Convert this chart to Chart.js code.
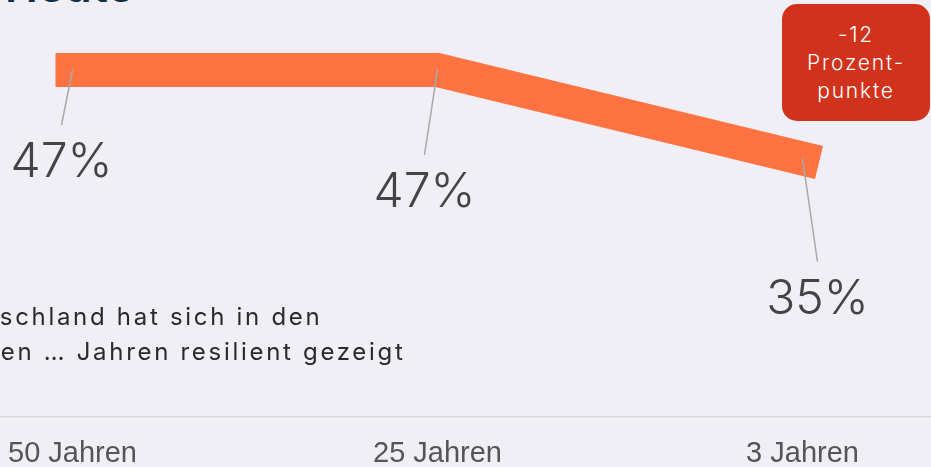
<!DOCTYPE html>
<html lang="de">
<head>
<meta charset="utf-8">
<script src="https://cdn.jsdelivr.net/npm/chart.js@4.4.0/dist/chart.umd.min.js"></script>
<style>
  html, body { margin: 0; padding: 0; width: 931px; height: 467px; overflow: hidden; background: #f0eff5; }
  #wrap { position: relative; width: 931px; height: 467px; overflow: hidden; }
  #chartBox { position: absolute; left: -110px; top: -26px; width: 1095px; height: 497px; }
  #title { position: absolute; left: 5px; top: -36px; font: 600 44px/44px Inter, sans-serif; color: #0f2f44; white-space: nowrap; letter-spacing: 0.5px; }
  .note { position: absolute; font: 400 24px/35px Inter, sans-serif; letter-spacing: 2.7px; color: #2a2a2a; white-space: nowrap; }
  #badge { position: absolute; left: 782px; top: 4px; width: 148px; height: 117px; background: #d1321c; border-radius: 15px;
           color: #fff; font: 300 21px/28px Inter, sans-serif; letter-spacing: 1.8px; text-align: center; display: flex; flex-direction: column; justify-content: center; }
  .measure { position: absolute; visibility: hidden; white-space: nowrap; }
</style>
</head>
<body>
<div id="wrap">
  <div id="title">Heute</div>
  <div id="chartBox"><canvas id="c"></canvas></div>
  <div class="note" id="n1">Deutschland hat sich in den</div>
  <div class="note" id="n2">letzten … Jahren resilient gezeigt</div>
  <div id="badge"><div>-12</div><div>Prozent-</div><div>punkte</div></div>
</div>
<script>
const categories = ["50 Jahren", "25 Jahren", "3 Jahren"];
const shareValues = [47, 47, 35];
const valueLabels = ["47%", "47%", "35%"];
// leader line end offsets (dx, dy) from each point, in px
const labelOffsets = [[-11, 55], [-13, 85], [15, 103]];

// place the cut-off note lines so their hidden prefix lies left of the frame
(function(){
  function w(txt) {
    const s = document.createElement('span');
    s.className = 'note measure';
    s.textContent = txt;
    document.getElementById('wrap').appendChild(s);
    const r = s.getBoundingClientRect().width;
    s.remove();
    return r;
  }
  const n1 = document.getElementById('n1'), n2 = document.getElementById('n2');
  n1.style.left = (-w('Deut')) + 'px';
  n2.style.left = (1 - w('letzt')) + 'px';
  n1.style.top = '299px';
  n2.style.top = '334px';
})();

const leaderPlugin = {
  id: 'leaders',
  afterDatasetsDraw(chart) {
    const ctx = chart.ctx;
    const meta = chart.getDatasetMeta(0);
    ctx.save();
    meta.data.forEach((pt, i) => {
      const [dx, dy] = labelOffsets[i];
      ctx.strokeStyle = '#a9a9ab';
      ctx.lineWidth = 1.5;
      ctx.beginPath();
      ctx.moveTo(pt.x, pt.y);
      ctx.lineTo(pt.x + dx, pt.y + dy);
      ctx.stroke();
      ctx.fillStyle = '#444444';
      ctx.font = '300 48px Inter, sans-serif';
      ctx.textAlign = 'center';
      ctx.textBaseline = 'alphabetic';
      ctx.fillText(valueLabels[i], pt.x + dx, pt.y + dy + 52);
    });
    ctx.restore();
  }
};

new Chart(document.getElementById('c'), {
  type: 'line',
  data: {
    labels: categories,
    datasets: [{
      data: shareValues,
      borderColor: '#ff7342',
      borderWidth: 34,
      borderCapStyle: 'square',
      borderJoinStyle: 'miter',
      pointRadius: 0,
      tension: 0,
      fill: false,
      clip: false
    }]
  },
  options: {
    responsive: true,
    maintainAspectRatio: false,
    animation: false,
    layout: { padding: 0, autoPadding: false },
    plugins: { legend: { display: false }, tooltip: { enabled: false } },
    scales: {
      x: {
        type: 'category',
        offset: true,
        grid: { display: false, drawTicks: false },
        border: { display: true, color: '#d9d9dd', width: 1.5 },
        ticks: { color: '#555555', font: { family: "'Liberation Sans', Arial, sans-serif", size: 29 }, padding: 20, maxRotation: 0 },
        afterFit: s => { s.height = 54; }
      },
      y: {
        display: false,
        min: 0,
        max: 60
      }
    }
  },
  plugins: [leaderPlugin]
});
</script>
</body>
</html>
